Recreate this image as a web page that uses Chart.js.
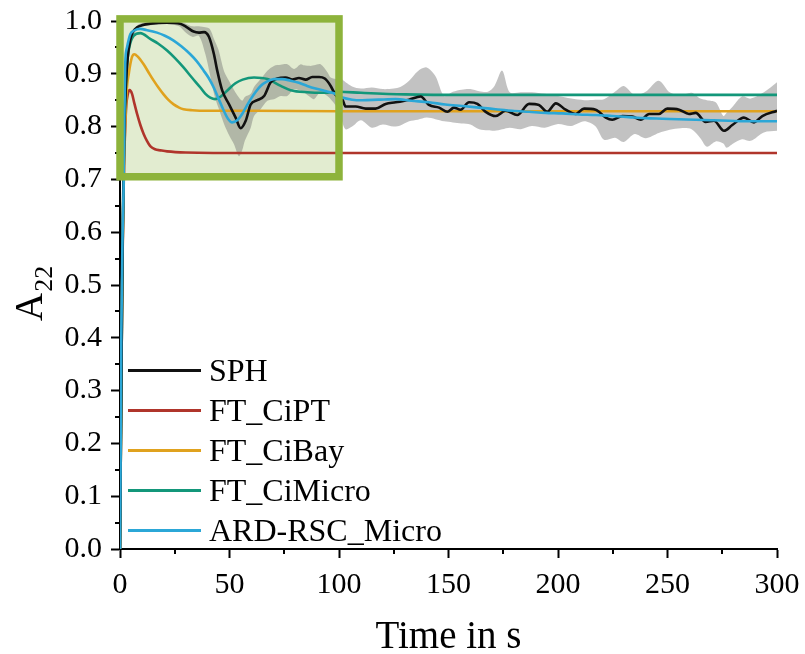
<!DOCTYPE html>
<html>
<head>
<meta charset="utf-8">
<script src="https://cdn.jsdelivr.net/npm/chart.js@4.4.1/dist/chart.umd.min.js"></script>
<style>
  html, body { margin: 0; padding: 0; background: #fff; }
  #wrap { position: relative; width: 805px; height: 654px; }
  #legend { position: absolute; left: 128px; top: 350px; font-family: 'Liberation Serif', 'Times New Roman', serif; font-size: 32px; color: #000; }
  .row { display: flex; align-items: center; height: 40px; }
  .swatch { width: 73px; height: 3px; margin-right: 8px; margin-top: 1px; }
  .label { line-height: 40px; white-space: nowrap; }
</style>
</head>
<body>
<div id="wrap">
  <canvas id="chart" width="805" height="654"></canvas>
  <div id="legend"></div>
</div>
<script>
// SPH mean
const sphT = [0, 0.5, 1, 1.5, 2, 2.7, 3.5, 4.7, 6, 7.8, 10, 13.8, 21.5, 27.5, 30.6, 33.6, 36, 38.4, 40.6, 42.9, 44.4, 46.7, 49.8, 52.8, 55.1, 57.4, 59.7, 62.7, 65.8, 68.8, 71.8, 75.6, 78.7, 81.7, 84.8, 87.8, 90.9, 93.5, 96.2, 97.7, 99.5, 101.5, 103, 107.6, 112.2, 116.7, 121.3, 125.9, 132, 137.3, 141.1, 145.7, 149.5, 152.5, 155.5, 159.4, 163.2, 167, 171.5, 176.1, 181.4, 186.8, 191.3, 195.1, 199, 203.5, 208.1, 211.9, 217.2, 221.8, 224.8, 229.4, 234, 237.8, 241.6, 246.1, 249.9, 255.3, 259.8, 262.9, 267.4, 271.2, 275.8, 279.6, 284.9, 289.5, 293.3, 300];
const sphA = [0, 0.25, 0.5, 0.68, 0.8, 0.88, 0.93, 0.965, 0.98, 0.988, 0.992, 0.995, 0.997, 0.995, 0.988, 0.98, 0.978, 0.979, 0.97, 0.937, 0.906, 0.868, 0.842, 0.817, 0.797, 0.811, 0.842, 0.85, 0.858, 0.884, 0.891, 0.893, 0.889, 0.892, 0.889, 0.894, 0.894, 0.891, 0.877, 0.865, 0.855, 0.852, 0.838, 0.838, 0.834, 0.834, 0.843, 0.846, 0.851, 0.857, 0.841, 0.836, 0.828, 0.836, 0.832, 0.846, 0.843, 0.828, 0.82, 0.83, 0.822, 0.843, 0.841, 0.828, 0.844, 0.832, 0.824, 0.834, 0.832, 0.817, 0.813, 0.82, 0.819, 0.813, 0.824, 0.824, 0.834, 0.832, 0.824, 0.826, 0.809, 0.811, 0.792, 0.803, 0.817, 0.808, 0.82, 0.83];

// SPH spread (grey band)
const bandT = [0, 1, 2, 4, 8, 14, 22, 27, 30, 33, 36, 39, 41, 43, 45, 47.5, 50, 52, 54.3, 55.8, 57, 59.7, 61.2, 64.2, 67.3, 70.3, 73.4, 76.4, 79.5, 82.5, 84, 87.1, 88.6, 91.6, 94.7, 96.2, 98.5, 101, 103, 106, 110, 115, 120, 125, 128, 132, 136, 140, 144, 148, 152, 156, 160, 164, 168, 171, 174.5, 178, 183, 188, 194, 200, 206, 212, 217, 221, 226, 230, 235, 240, 246, 251, 256, 261, 265, 268, 272, 275.5, 277, 280, 284, 288, 294, 300];
const bandLo = [0, 0.49, 0.79, 0.95, 0.985, 0.992, 0.994, 0.99, 0.978, 0.97, 0.972, 0.937, 0.9, 0.861, 0.835, 0.805, 0.782, 0.767, 0.744, 0.755, 0.773, 0.798, 0.82, 0.833, 0.849, 0.852, 0.858, 0.858, 0.871, 0.868, 0.865, 0.855, 0.852, 0.865, 0.858, 0.852, 0.84, 0.815, 0.795, 0.8, 0.812, 0.798, 0.804, 0.8, 0.802, 0.81, 0.813, 0.817, 0.814, 0.81, 0.808, 0.806, 0.804, 0.795, 0.793, 0.792, 0.795, 0.798, 0.795, 0.801, 0.798, 0.805, 0.801, 0.81, 0.801, 0.775, 0.779, 0.771, 0.786, 0.778, 0.788, 0.794, 0.797, 0.795, 0.778, 0.762, 0.772, 0.768, 0.76, 0.768, 0.776, 0.773, 0.789, 0.792];
const bandHi = [0, 0.51, 0.81, 0.96, 0.992, 0.998, 0.999, 0.999, 0.995, 0.99, 0.99, 0.988, 0.985, 0.965, 0.945, 0.905, 0.885, 0.87, 0.855, 0.849, 0.856, 0.862, 0.875, 0.89, 0.906, 0.915, 0.917, 0.918, 0.909, 0.918, 0.916, 0.915, 0.916, 0.918, 0.903, 0.893, 0.89, 0.89, 0.884, 0.876, 0.872, 0.874, 0.871, 0.872, 0.875, 0.887, 0.905, 0.912, 0.896, 0.858, 0.866, 0.87, 0.871, 0.867, 0.866, 0.877, 0.906, 0.865, 0.865, 0.865, 0.862, 0.858, 0.853, 0.85, 0.851, 0.852, 0.866, 0.877, 0.86, 0.866, 0.887, 0.865, 0.859, 0.864, 0.853, 0.85, 0.846, 0.82, 0.826, 0.839, 0.857, 0.853, 0.865, 0.884];

// FT_CiPT
const ciptT = [0, 0.5, 1, 1.5, 2, 2.5, 2.9, 3.5, 4.4, 5.5, 6.5, 7.8, 9.3, 10.8, 12.3, 13.8, 16, 18.5, 21.5, 30, 60, 300];
const ciptA = [0, 0.25, 0.5, 0.65, 0.75, 0.81, 0.842, 0.86, 0.869, 0.862, 0.845, 0.824, 0.803, 0.786, 0.773, 0.763, 0.757, 0.755, 0.753, 0.751, 0.75, 0.75];

// FT_CiBay
const cibayT = [0, 0.5, 1, 1.5, 2, 2.7, 3.3, 4, 4.7, 5.5, 6.5, 8, 10.8, 13, 15.4, 17.7, 19.9, 22, 24.5, 27, 29, 33, 40, 60, 100, 300];
const cibayA = [0, 0.25, 0.5, 0.66, 0.76, 0.84, 0.88, 0.9, 0.918, 0.932, 0.937, 0.933, 0.918, 0.903, 0.887, 0.873, 0.861, 0.851, 0.842, 0.836, 0.833, 0.831, 0.83, 0.83, 0.829, 0.829];

// FT_CiMicro
const cimicroT = [0, 0.5, 1, 1.5, 2, 2.7, 3.5, 4.5, 6.2, 9.3, 13.8, 17.5, 21.5, 25, 29, 33, 36.7, 39, 41.2, 43.5, 46, 48.9, 52.7, 56, 61.2, 67.3, 73.4, 77.9, 85.5, 93.2, 100, 110, 130, 160, 300];
const cimicroA = [0, 0.25, 0.5, 0.68, 0.8, 0.88, 0.93, 0.955, 0.972, 0.977, 0.966, 0.957, 0.944, 0.93, 0.912, 0.892, 0.874, 0.862, 0.855, 0.852, 0.857, 0.868, 0.882, 0.889, 0.893, 0.89, 0.877, 0.869, 0.865, 0.864, 0.866, 0.864, 0.861, 0.86, 0.86];

// ARD-RSC_Micro
const ardT = [0, 0.3, 0.6, 1.2, 1.7, 2, 2.4, 3.2, 4.7, 6.5, 9.3, 12, 16.9, 20.5, 24.5, 28, 32.1, 35, 38.2, 40.5, 42.8, 45, 47.4, 49.3, 51.2, 53.5, 55.8, 57.7, 59.7, 62, 64.2, 67, 70.3, 74, 77.9, 81.7, 85.5, 89.3, 93.2, 97.7, 101.5, 106, 110.6, 118, 125.9, 133, 141, 148.5, 156.3, 164, 171.5, 179, 186.8, 194.4, 202, 209.6, 217.2, 224.8, 232.4, 240, 247.6, 255, 262.9, 270, 278, 290, 300];
const ardA = [0, 0.18, 0.41, 0.6, 0.7, 0.82, 0.92, 0.95, 0.975, 0.982, 0.985, 0.983, 0.978, 0.972, 0.963, 0.952, 0.937, 0.924, 0.906, 0.892, 0.874, 0.853, 0.83, 0.815, 0.808, 0.812, 0.824, 0.838, 0.852, 0.866, 0.877, 0.885, 0.89, 0.89, 0.887, 0.883, 0.877, 0.872, 0.868, 0.863, 0.855, 0.851, 0.85, 0.851, 0.852, 0.849, 0.846, 0.842, 0.839, 0.836, 0.833, 0.83, 0.828, 0.826, 0.825, 0.823, 0.822, 0.82, 0.818, 0.816, 0.815, 0.814, 0.813, 0.812, 0.811, 0.81, 0.81];

const xTicks = [0, 50, 100, 150, 200, 250, 300];
const yTicks = [0.0, 0.1, 0.2, 0.3, 0.4, 0.5, 0.6, 0.7, 0.8, 0.9, 1.0];

// highlighted region: t from, t to, A from, A to
const zoomBox = [0, 100, 0.705, 1.004];

const serif = "'Liberation Serif', 'Times New Roman', serif";

function pts(t, a) {
  return t.map((x, i) => ({ x, y: a[i] }));
}

function line(label, t, a, color, order) {
  return {
    label,
    data: pts(t, a),
    borderColor: color,
    backgroundColor: color,
    borderWidth: 2.6,
    pointRadius: 0,
    cubicInterpolationMode: 'monotone',
    fill: false,
    order
  };
}

const datasets = [
  line('SPH', sphT, sphA, '#111111', 2),
  line('FT_CiPT', ciptT, ciptA, '#b0352b', 5),
  line('FT_CiBay', cibayT, cibayA, '#e0a21e', 4),
  line('FT_CiMicro', cimicroT, cimicroA, '#13977a', 3),
  line('ARD-RSC_Micro', ardT, ardA, '#2ba7d7', 1),
  {
    label: 'bandHi', data: pts(bandT, bandHi), borderColor: 'rgba(0,0,0,0)', borderWidth: 1,
    pointRadius: 0, tension: 0.3, fill: { target: 6 }, backgroundColor: 'rgba(110,110,110,0.42)',
    order: 9, legend: false
  },
  {
    label: 'bandLo', data: pts(bandT, bandLo), borderColor: 'rgba(0,0,0,0)', borderWidth: 1,
    pointRadius: 0, tension: 0.3, fill: false, order: 10, legend: false
  }
];

// minor ticks and the green box behind the curves, box frame on top
const decor = {
  id: 'decor',
  beforeDatasetsDraw(chart) {
    const { ctx, scales: { x, y } } = chart;
    ctx.save();
    ctx.strokeStyle = '#000';
    ctx.lineWidth = 2;
    ctx.beginPath();
    for (let v = 0.05; v < 1; v += 0.1) {
      const py = Math.round(y.getPixelForValue(v));
      ctx.moveTo(x.left - 5, py);
      ctx.lineTo(x.left, py);
    }
    for (let v = 25; v < 300; v += 50) {
      const px = Math.round(x.getPixelForValue(v));
      ctx.moveTo(px, y.bottom);
      ctx.lineTo(px, y.bottom + 5);
    }
    ctx.stroke();
    const bx0 = x.getPixelForValue(zoomBox[0]), bx1 = x.getPixelForValue(zoomBox[1]);
    const by0 = y.getPixelForValue(zoomBox[3]), by1 = y.getPixelForValue(zoomBox[2]);
    ctx.fillStyle = '#e2ecd0';
    ctx.fillRect(bx0, by0, bx1 - bx0, by1 - by0);
    ctx.restore();
  },
  afterDatasetsDraw(chart) {
    const { ctx, scales: { x, y } } = chart;
    const bx0 = x.getPixelForValue(zoomBox[0]), bx1 = x.getPixelForValue(zoomBox[1]);
    const by0 = y.getPixelForValue(zoomBox[3]), by1 = y.getPixelForValue(zoomBox[2]);
    ctx.save();
    ctx.strokeStyle = '#8db33b';
    ctx.lineWidth = 7.5;
    ctx.strokeRect(bx0, by0, bx1 - bx0, by1 - by0);
    ctx.restore();
  },
  afterDraw(chart) {
    // y title A22 with subscript
    const { ctx, chartArea } = chart;
    const cy = (chartArea.top + chartArea.bottom) / 2 + 36;
    ctx.save();
    ctx.translate(42, cy);
    ctx.rotate(-Math.PI / 2);
    ctx.fillStyle = '#000';
    ctx.textBaseline = 'alphabetic';
    ctx.font = '39px ' + serif;
    ctx.fillText('A', 0, 0);
    const w = ctx.measureText('A').width;
    ctx.font = '26px ' + serif;
    ctx.fillText('22', w + 1, 10);
    ctx.restore();
  }
};

const chart = new Chart(document.getElementById('chart'), {
  type: 'line',
  data: { datasets },
  options: {
    responsive: false,
    animation: false,
    layout: { padding: { top: 21, right: 28, left: 0, bottom: 0 } },
    plugins: {
      legend: { display: false },
      tooltip: { enabled: false }
    },
    scales: {
      x: {
        type: 'linear',
        min: 0,
        max: 300,
        afterBuildTicks: s => { s.ticks = xTicks.map(v => ({ value: v })); },
        afterFit: s => { s.height = 105; s.paddingLeft = 0; s.paddingRight = 0; },
        border: { color: '#000', width: 2 },
        grid: { drawOnChartArea: false, tickLength: 9, tickWidth: 2, tickColor: '#000' },
        ticks: { color: '#000', padding: 9, font: { family: serif, size: 30 } },
        title: {
          display: true, text: 'Time in s', color: '#000',
          font: { family: serif, size: 39, lineHeight: 0.82 }, padding: 0
        }
      },
      y: {
        min: 0,
        max: 1,
        afterBuildTicks: s => { s.ticks = yTicks.map(v => ({ value: v })); },
        afterFit: s => { s.width = 120; s.paddingTop = 0; s.paddingBottom = 0; },
        border: { color: '#000', width: 2 },
        grid: { drawOnChartArea: false, tickLength: 9, tickWidth: 2, tickColor: '#000' },
        ticks: {
          color: '#000', padding: 9, font: { family: serif, size: 30 },
          callback: v => v.toFixed(1)
        }
      }
    }
  },
  plugins: [decor]
});

// legend as real text next to the curves
const legendEl = document.getElementById('legend');
datasets.filter(d => d.legend !== false).forEach(d => {
  const row = document.createElement('div');
  row.className = 'row';
  const sw = document.createElement('span');
  sw.className = 'swatch';
  sw.style.background = d.borderColor;
  const lb = document.createElement('span');
  lb.className = 'label';
  lb.textContent = d.label;
  row.appendChild(sw);
  row.appendChild(lb);
  legendEl.appendChild(row);
});
</script>
</body>
</html>
